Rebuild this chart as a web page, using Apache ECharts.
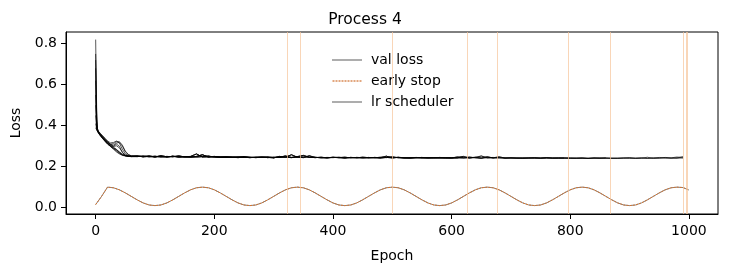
<!DOCTYPE html>
<html><head><meta charset="utf-8">
<script src="https://cdn.jsdelivr.net/npm/echarts@6/dist/echarts.min.js"></script>
<style>html,body{margin:0;padding:0;background:#fff}#c{width:730px;height:272px}</style>
</head><body><div id="c"></div>
<script>
const titleText = 'Process 4';
const xName = 'Epoch';
const yName = 'Loss';
const stopEpochs = [323, 345, 500, 627, 677, 796, 868, 991, 995, 998];
const earlyEpochs = [0, 1, 2, 3, 5, 8, 12, 16, 20, 25, 30, 35, 40, 45, 50, 55, 60];
const earlyRuns = [
  [0.82,0.60,0.430,0.385,0.370,0.360,0.348,0.335,0.322,0.310,0.300,0.310,0.300,0.270,0.255,0.252,0.251],
  [0.75,0.55,0.410,0.378,0.368,0.356,0.342,0.330,0.318,0.305,0.295,0.285,0.270,0.258,0.253,0.250,0.249],
  [0.72,0.52,0.420,0.385,0.372,0.362,0.350,0.338,0.326,0.316,0.318,0.325,0.315,0.285,0.262,0.254,0.251],
  [0.68,0.50,0.400,0.376,0.365,0.352,0.338,0.325,0.312,0.298,0.285,0.272,0.262,0.255,0.252,0.250,0.249],
  [0.62,0.47,0.405,0.380,0.369,0.358,0.345,0.332,0.320,0.308,0.305,0.315,0.318,0.300,0.272,0.258,0.252],
  [0.55,0.45,0.395,0.374,0.362,0.350,0.336,0.322,0.310,0.300,0.290,0.280,0.268,0.258,0.253,0.251,0.250],
  [0.50,0.43,0.390,0.376,0.366,0.354,0.340,0.328,0.315,0.304,0.298,0.302,0.292,0.270,0.257,0.252,0.250],
  [0.45,0.41,0.385,0.373,0.364,0.351,0.337,0.324,0.311,0.299,0.288,0.276,0.265,0.257,0.253,0.251,0.249],
  [0.41,0.395,0.382,0.375,0.367,0.357,0.344,0.331,0.319,0.310,0.312,0.322,0.322,0.305,0.276,0.260,0.253],
  [0.39,0.385,0.377,0.370,0.363,0.353,0.339,0.326,0.313,0.302,0.292,0.283,0.272,0.262,0.255,0.252,0.250]
];
// plateau values, every 10 epochs from 70 to 1000
const plateauA = [
  0.251,0.249,0.252,0.248,0.250,0.247,0.251,0.248,0.249,0.246,
  0.250,0.258,0.247,0.249,0.246,0.248,0.245,0.247,0.246,0.244,
  0.246,0.245,0.247,0.244,0.246,0.252,0.245,0.249,0.255,0.246,
  0.244,0.246,0.243,0.245,0.244,0.246,0.243,0.245,0.244,0.243,
  0.245,0.244,0.251,0.243,0.245,0.242,0.244,0.243,0.245,0.242,
  0.244,0.243,0.242,0.244,0.243,0.250,0.243,0.246,0.242,0.244,
  0.243,0.248,0.242,0.243,0.241,0.243,0.242,0.244,0.241,0.243,
  0.242,0.241,0.243,0.242,0.241,0.243,0.240,0.242,0.241,0.243,
  0.241,0.240,0.242,0.244,0.241,0.243,0.240,0.242,0.245,0.241,
  0.243,0.247,0.242,0.246
];
const plateauB = [
  0.249,0.252,0.248,0.251,0.247,0.250,0.248,0.253,0.247,0.249,
  0.247,0.249,0.252,0.246,0.248,0.245,0.247,0.246,0.248,0.245,
  0.245,0.247,0.244,0.246,0.245,0.247,0.258,0.246,0.248,0.245,
  0.246,0.243,0.245,0.244,0.246,0.243,0.245,0.244,0.242,0.245,
  0.243,0.246,0.244,0.249,0.243,0.244,0.242,0.245,0.243,0.244,
  0.242,0.245,0.243,0.242,0.248,0.244,0.242,0.245,0.252,0.243,
  0.245,0.242,0.244,0.241,0.243,0.242,0.241,0.243,0.242,0.241,
  0.243,0.242,0.240,0.242,0.241,0.240,0.242,0.241,0.243,0.240,
  0.242,0.241,0.243,0.240,0.242,0.241,0.246,0.240,0.242,0.244,
  0.241,0.244,0.249,0.243
];
const plateauC = [
  0.252,0.248,0.250,0.247,0.254,0.248,0.250,0.247,0.248,0.250,
  0.262,0.247,0.248,0.250,0.245,0.247,0.246,0.244,0.247,0.246,
  0.244,0.246,0.245,0.243,0.250,0.246,0.244,0.247,0.244,0.253,
  0.245,0.244,0.243,0.246,0.244,0.242,0.245,0.243,0.246,0.244,
  0.244,0.242,0.245,0.243,0.246,0.243,0.241,0.244,0.242,0.243,
  0.243,0.242,0.244,0.241,0.243,0.242,0.247,0.243,0.241,0.249,
  0.242,0.244,0.241,0.243,0.242,0.240,0.243,0.241,0.242,0.244,
  0.241,0.243,0.242,0.240,0.242,0.241,0.240,0.243,0.241,0.242,
  0.240,0.242,0.241,0.243,0.240,0.242,0.241,0.243,0.241,0.245,
  0.242,0.240,0.244,0.248
];
// learning rate curve, every 10 epochs from 0 to 1000
const lrValues = [
  0.015,0.055,0.100,
  0.097,0.087,0.072,0.055,0.038,0.023,0.013,0.010,0.013,0.023,0.038,0.055,0.072,0.087,0.097,0.100,
  0.097,0.087,0.072,0.055,0.038,0.023,0.013,0.010,0.013,0.023,0.038,0.055,0.072,0.087,0.097,0.100,
  0.097,0.087,0.072,0.055,0.038,0.023,0.013,0.010,0.013,0.023,0.038,0.055,0.072,0.087,0.097,0.100,
  0.097,0.087,0.072,0.055,0.038,0.023,0.013,0.010,0.013,0.023,0.038,0.055,0.072,0.087,0.097,0.100,
  0.097,0.087,0.072,0.055,0.038,0.023,0.013,0.010,0.013,0.023,0.038,0.055,0.072,0.087,0.097,0.100,
  0.097,0.087,0.072,0.055,0.038,0.023,0.013,0.010,0.013,0.023,0.038,0.055,0.072,0.087,0.097,0.100,
  0.098,0.086
];

const plateaus = [plateauA, plateauB, plateauC];
const FONT = 'DejaVu Sans';
const series = [];
earlyRuns.forEach((run, i) => {
  const pts = earlyEpochs.map((e, k) => [e, run[k]]);
  const pl = plateaus[i % 3];
  for (let k = 0; k < pl.length; k++) {
    const e = 70 + 10 * k;
    if (e > stopEpochs[i]) break;
    pts.push([e, pl[k]]);
  }
  series.push({
    name: 'val loss', type: 'line', data: pts, symbol: 'none', showSymbol: false, silent: true,
    lineStyle: { color: '#000', width: 1, opacity: 0.65 }, itemStyle: { color: '#808080' }, z: 3
  });
});
const lrPts = lrValues.map((v, k) => [10 * k, v]);
series.push({
  name: 'early stop', type: 'line', data: lrPts, symbol: 'none', showSymbol: false, silent: true,
  lineStyle: { color: '#d8742e', width: 1, type: [2, 1.2] }, itemStyle: { color: '#d98a55' }, z: 4,
  markLine: {
    silent: true, symbol: 'none', label: { show: false },
    lineStyle: { color: '#f6c49a', width: 1, type: 'solid', opacity: 0.7 },
    data: stopEpochs.map(e => ({ xAxis: e }))
  }
});
series.push({
  name: 'lr scheduler', type: 'line', data: lrPts, symbol: 'none', showSymbol: false, silent: true,
  lineStyle: { color: '#444', width: 1, opacity: 0.7 }, itemStyle: { color: '#808080' }, z: 3
});

const solidIcon = 'path://M0,0H30V1.3H0Z';
const dashIcon = 'path://M0,0H2V1.3H0Z M3,0H5V1.3H3Z M6,0H8V1.3H6Z M9,0H11V1.3H9Z M12,0H14V1.3H12Z M15,0H17V1.3H15Z M18,0H20V1.3H18Z M21,0H23V1.3H21Z M24,0H26V1.3H24Z M27,0H29V1.3H27Z';

const chart = echarts.init(document.getElementById('c'), null, { renderer: 'canvas' });
chart.setOption({
  animation: false,
  backgroundColor: '#fff',
  title: { text: titleText, left: 'center', top: 7, textStyle: { fontFamily: FONT, fontSize: 15.5, fontWeight: 'normal', color: '#000' } },
  legend: {
    orient: 'vertical', left: 327, top: 47, itemWidth: 30, itemHeight: 1.3, itemGap: 5,
    data: [
      { name: 'val loss', icon: solidIcon, itemStyle: { color: '#808080' } },
      { name: 'early stop', icon: dashIcon, itemStyle: { color: '#d98a55' } },
      { name: 'lr scheduler', icon: solidIcon, itemStyle: { color: '#808080' } }
    ],
    textStyle: { fontFamily: FONT, fontSize: 14, color: '#000', padding: [0, 0, 0, 4], lineHeight: 16 }
  },
  grid: { left: 66, right: 12, top: 32, bottom: 58, show: true, borderColor: '#000', borderWidth: 1, backgroundColor: 'transparent' },
  xAxis: {
    type: 'value', min: -50, max: 1049, splitNumber: 5,
    name: xName, nameLocation: 'middle', nameGap: 35,
    nameTextStyle: { fontFamily: FONT, fontSize: 14, color: '#000' },
    axisLine: { show: true, onZero: false, lineStyle: { color: '#000' } },
    axisTick: { show: true, inside: false, length: 5, lineStyle: { color: '#000' } },
    axisLabel: { fontFamily: FONT, fontSize: 14, color: '#000', showMinLabel: false, showMaxLabel: false, margin: 10, formatter: v => String(v) },
    splitLine: { show: false }
  },
  yAxis: {
    type: 'value', min: -0.031, max: 0.857, splitNumber: 4,
    name: yName, nameLocation: 'middle', nameGap: 36,
    nameTextStyle: { fontFamily: FONT, fontSize: 14, color: '#000' },
    axisLine: { show: true, onZero: false, lineStyle: { color: '#000' } },
    axisTick: { show: true, inside: false, length: 5, lineStyle: { color: '#000' } },
    axisLabel: { fontFamily: FONT, fontSize: 14, color: '#000', showMinLabel: false, showMaxLabel: false, margin: 9, formatter: v => v.toFixed(1) },
    splitLine: { show: false }
  },
  series: series
});
</script>
</body></html>
